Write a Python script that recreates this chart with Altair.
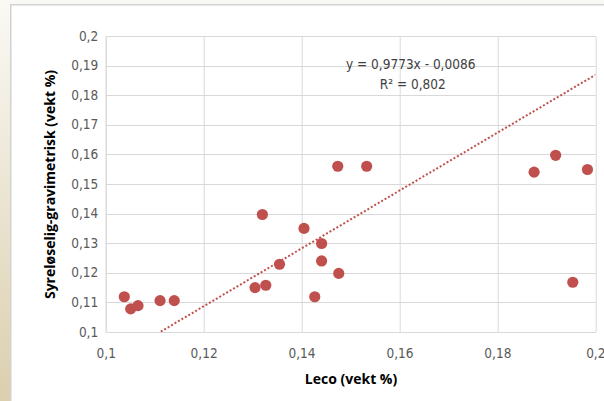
import altair as alt
import pandas as pd

# ---- data ----
leco = [0.1038, 0.1051, 0.1066, 0.1111, 0.1140, 0.1305, 0.1327, 0.1320, 0.1355, 0.1405,
        0.1441, 0.1441, 0.1427, 0.1474, 0.1476, 0.1533, 0.1875, 0.1919, 0.1984, 0.1954]
gravi = [0.1119, 0.1078, 0.1089, 0.1106, 0.1106, 0.1150, 0.1158, 0.1397, 0.1229, 0.1350,
         0.1299, 0.1240, 0.1119, 0.1560, 0.1198, 0.1560, 0.1540, 0.1597, 0.1549, 0.1168]
slope = 0.9773
intercept = -0.0086
eq_lines = ["y = 0,9773x - 0,0086", "R² = 0,802"]
x_ticks = [0.1, 0.12, 0.14, 0.16, 0.18, 0.2]
y_ticks = [0.1, 0.11, 0.12, 0.13, 0.14, 0.15, 0.16, 0.17, 0.18, 0.19, 0.2]
x_domain = [0.1, 0.2]
y_domain = [0.1, 0.2]
x_title = "Leco (vekt %)"
y_title = "Syreløselig-gravimetrisk (vekt %)"

# ---- layout ----
W, H = 489.6, 296
PL, PT, PR, PB = 105.7, 36, 8.7, 69
FONT = "Liberation Sans Narrow, DejaVu Sans Condensed, sans-serif"
RED = "#c0504d"
label_expr = "replace(format(datum.value, '.2~f'), '.', ',')"

df = pd.DataFrame({"leco": leco, "gravi": gravi})
xs = alt.Scale(domain=x_domain, nice=False, zero=False)
ys = alt.Scale(domain=y_domain, nice=False, zero=False)

one = pd.DataFrame({"a": [0]})

left_strip = alt.Chart(one).mark_rect(
    color=alt.Gradient(
        gradient="linear",
        stops=[alt.GradientStop(color="#faf9f5", offset=0),
               alt.GradientStop(color="#dbcfae", offset=1)],
        x1=0, x2=0, y1=0, y2=1),
).encode(x=alt.value(-PL), x2=alt.value(-PL + 10), y=alt.value(-PT), y2=alt.value(H + PB))

top_strip = alt.Chart(one).mark_rect(color="#f9f8f4").encode(
    x=alt.value(-PL + 10), x2=alt.value(W + PR), y=alt.value(-PT), y2=alt.value(-PT + 4))

frame_v = alt.Chart(one).mark_rule(color="#d2d2d2", strokeWidth=1.5).encode(
    x=alt.value(-PL + 10.75), y=alt.value(-PT + 4), y2=alt.value(H + PB))
frame_h = alt.Chart(one).mark_rule(color="#d2d2d2", strokeWidth=1.5).encode(
    x=alt.value(-PL + 10), x2=alt.value(W + PR), y=alt.value(-PT + 4.75))

x_axis = alt.Axis(values=x_ticks, labelExpr=label_expr, title=x_title,
                  labelPadding=14, titlePadding=13, labelFlush=False, labelOverlap=False)
y_axis = alt.Axis(values=y_ticks, labelExpr=label_expr, title=y_title,
                  labelPadding=8, titlePadding=13, labelFlush=False, labelOverlap=False)

points = alt.Chart(df).mark_circle(size=125, color=RED, opacity=1).encode(
    x=alt.X("leco:Q", scale=xs, axis=x_axis),
    y=alt.Y("gravi:Q", scale=ys, axis=y_axis),
)

trend = alt.Chart(pd.DataFrame({"leco": x_domain})).transform_calculate(
    gravi=f"{slope} * datum.leco + ({intercept})"
).mark_line(color=RED, strokeDash=[2, 2], strokeWidth=2, clip=True).encode(
    x=alt.X("leco:Q", scale=xs, axis=x_axis), y=alt.Y("gravi:Q", scale=ys, axis=y_axis))

eq1 = alt.Chart(one).mark_text(font=FONT, fontSize=13.5, color="#404040", align="center",
                               baseline="middle").encode(
    text=alt.value(eq_lines[0]), x=alt.value(305), y=alt.value(29))
eq2 = alt.Chart(one).mark_text(font=FONT, fontSize=13.5, color="#404040", align="center",
                               baseline="middle").encode(
    text=alt.value(eq_lines[1]), x=alt.value(307), y=alt.value(49))

chart = alt.layer(left_strip, top_strip, frame_v, frame_h, trend, points, eq1, eq2).properties(
    width=W, height=H,
    padding={"left": PL, "top": PT, "right": PR, "bottom": PB},
    autosize=alt.AutoSizeParams(type="none"),
    background="white",
).configure_view(stroke=None).configure_axis(
    gridColor="#d9d9d9", gridWidth=1, domainColor="#d9d9d9", domainWidth=1,
    ticks=False, labelFont=FONT, labelFontSize=13.5, labelColor="#595959",
    titleFont="Open Sans, sans-serif", titleFontSize=14, titleFontWeight="bold", titleColor="#000000",
)

chart.save("out.html", embed_options={"renderer": "svg", "actions": False})
